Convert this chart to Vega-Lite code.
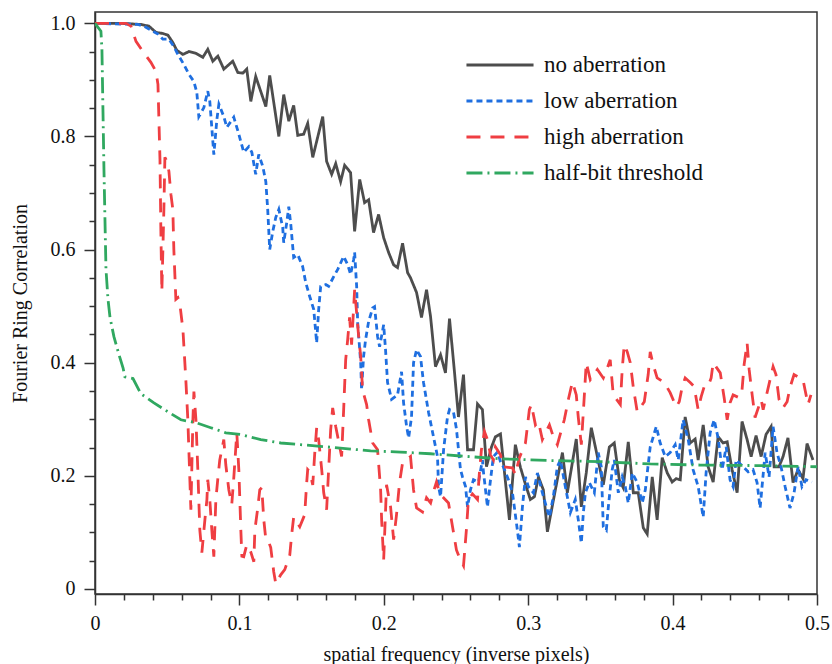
{
 "$schema": "https://vega.github.io/schema/vega-lite/v6.json",
 "width": 722, "height": 582,
 "autosize": {"type": "none"},
 "padding": {"left": 95, "top": 12, "right": 15, "bottom": 70},
 "background": "white",
 "config": {
  "view": {"stroke": "#333", "strokeWidth": 1.5},
  "font": "Liberation Serif, DejaVu Serif, serif",
  "text": {"font": "Liberation Serif, DejaVu Serif, serif"},
  "axis": {"domainColor": "#333", "domainWidth": 1.5, "tickColor": "#333", "tickWidth": 1.5, "labelFont": "Liberation Serif, DejaVu Serif, serif", "labelFontSize": 20, "labelColor": "#111", "titleFont": "Liberation Serif, DejaVu Serif, serif", "titleFontSize": 20, "titleFontWeight": "normal", "titleColor": "#111", "grid": false, "labelOverlap": false, "labelFlush": false},
  "legend": {"labelFont": "Liberation Serif, DejaVu Serif, serif"}
 },
 "data": {"values": [
  {"s":"no aberration","x":0,"y":1.0},{"s":"no aberration","x":0.018,"y":1.0},{"s":"no aberration","x":0.0318,"y":0.998},{"s":"no aberration","x":0.0373,"y":0.995},{"s":"no aberration","x":0.0422,"y":0.984},{"s":"no aberration","x":0.047,"y":0.982},{"s":"no aberration","x":0.0505,"y":0.979},{"s":"no aberration","x":0.0539,"y":0.966},{"s":"no aberration","x":0.0567,"y":0.952},{"s":"no aberration","x":0.0609,"y":0.945},{"s":"no aberration","x":0.065,"y":0.95},{"s":"no aberration","x":0.0699,"y":0.947},{"s":"no aberration","x":0.0747,"y":0.94},{"s":"no aberration","x":0.0781,"y":0.954},{"s":"no aberration","x":0.0816,"y":0.933},{"s":"no aberration","x":0.0851,"y":0.942},{"s":"no aberration","x":0.0892,"y":0.919},{"s":"no aberration","x":0.0954,"y":0.933},{"s":"no aberration","x":0.0989,"y":0.913},{"s":"no aberration","x":0.1024,"y":0.912},{"s":"no aberration","x":0.1051,"y":0.919},{"s":"no aberration","x":0.1079,"y":0.862},{"s":"no aberration","x":0.1113,"y":0.906},{"s":"no aberration","x":0.1183,"y":0.853},{"s":"no aberration","x":0.121,"y":0.908},{"s":"no aberration","x":0.1273,"y":0.8},{"s":"no aberration","x":0.1307,"y":0.874},{"s":"no aberration","x":0.1342,"y":0.827},{"s":"no aberration","x":0.1376,"y":0.855},{"s":"no aberration","x":0.1404,"y":0.802},{"s":"no aberration","x":0.1445,"y":0.804},{"s":"no aberration","x":0.1473,"y":0.823},{"s":"no aberration","x":0.1508,"y":0.763},{"s":"no aberration","x":0.1577,"y":0.835},{"s":"no aberration","x":0.1604,"y":0.756},{"s":"no aberration","x":0.1639,"y":0.733},{"s":"no aberration","x":0.1667,"y":0.752},{"s":"no aberration","x":0.1701,"y":0.72},{"s":"no aberration","x":0.1729,"y":0.749},{"s":"no aberration","x":0.177,"y":0.736},{"s":"no aberration","x":0.1798,"y":0.632},{"s":"no aberration","x":0.1833,"y":0.724},{"s":"no aberration","x":0.1867,"y":0.683},{"s":"no aberration","x":0.1895,"y":0.688},{"s":"no aberration","x":0.1929,"y":0.63},{"s":"no aberration","x":0.1964,"y":0.662},{"s":"no aberration","x":0.1999,"y":0.621},{"s":"no aberration","x":0.2033,"y":0.595},{"s":"no aberration","x":0.2068,"y":0.573},{"s":"no aberration","x":0.2095,"y":0.568},{"s":"no aberration","x":0.213,"y":0.611},{"s":"no aberration","x":0.2165,"y":0.559},{"s":"no aberration","x":0.2185,"y":0.55},{"s":"no aberration","x":0.2227,"y":0.524},{"s":"no aberration","x":0.2261,"y":0.48},{"s":"no aberration","x":0.2296,"y":0.529},{"s":"no aberration","x":0.2324,"y":0.481},{"s":"no aberration","x":0.2358,"y":0.393},{"s":"no aberration","x":0.2393,"y":0.414},{"s":"no aberration","x":0.2427,"y":0.382},{"s":"no aberration","x":0.2455,"y":0.478},{"s":"no aberration","x":0.249,"y":0.382},{"s":"no aberration","x":0.2517,"y":0.304},{"s":"no aberration","x":0.2552,"y":0.379},{"s":"no aberration","x":0.258,"y":0.246},{"s":"no aberration","x":0.2621,"y":0.246},{"s":"no aberration","x":0.2649,"y":0.327},{"s":"no aberration","x":0.2683,"y":0.317},{"s":"no aberration","x":0.2711,"y":0.216},{"s":"no aberration","x":0.2746,"y":0.251},{"s":"no aberration","x":0.2773,"y":0.269},{"s":"no aberration","x":0.2808,"y":0.274},{"s":"no aberration","x":0.287,"y":0.122},{"s":"no aberration","x":0.2911,"y":0.255},{"s":"no aberration","x":0.2946,"y":0.215},{"s":"no aberration","x":0.2981,"y":0.185},{"s":"no aberration","x":0.3015,"y":0.158},{"s":"no aberration","x":0.3043,"y":0.163},{"s":"no aberration","x":0.3071,"y":0.198},{"s":"no aberration","x":0.3105,"y":0.175},{"s":"no aberration","x":0.3133,"y":0.101},{"s":"no aberration","x":0.3237,"y":0.241},{"s":"no aberration","x":0.3271,"y":0.17},{"s":"no aberration","x":0.3333,"y":0.265},{"s":"no aberration","x":0.3368,"y":0.145},{"s":"no aberration","x":0.3402,"y":0.205},{"s":"no aberration","x":0.3437,"y":0.285},{"s":"no aberration","x":0.3479,"y":0.234},{"s":"no aberration","x":0.352,"y":0.184},{"s":"no aberration","x":0.3562,"y":0.251},{"s":"no aberration","x":0.3596,"y":0.258},{"s":"no aberration","x":0.3631,"y":0.193},{"s":"no aberration","x":0.3658,"y":0.179},{"s":"no aberration","x":0.3693,"y":0.26},{"s":"no aberration","x":0.3728,"y":0.17},{"s":"no aberration","x":0.3762,"y":0.17},{"s":"no aberration","x":0.3797,"y":0.108},{"s":"no aberration","x":0.3824,"y":0.097},{"s":"no aberration","x":0.3859,"y":0.198},{"s":"no aberration","x":0.3893,"y":0.122},{"s":"no aberration","x":0.3928,"y":0.232},{"s":"no aberration","x":0.3963,"y":0.205},{"s":"no aberration","x":0.3997,"y":0.189},{"s":"no aberration","x":0.4025,"y":0.195},{"s":"no aberration","x":0.4053,"y":0.193},{"s":"no aberration","x":0.4087,"y":0.304},{"s":"no aberration","x":0.4122,"y":0.258},{"s":"no aberration","x":0.4156,"y":0.265},{"s":"no aberration","x":0.4177,"y":0.228},{"s":"no aberration","x":0.4212,"y":0.29},{"s":"no aberration","x":0.4246,"y":0.216},{"s":"no aberration","x":0.4281,"y":0.189},{"s":"no aberration","x":0.4315,"y":0.269},{"s":"no aberration","x":0.435,"y":0.258},{"s":"no aberration","x":0.4378,"y":0.26},{"s":"no aberration","x":0.4412,"y":0.211},{"s":"no aberration","x":0.4447,"y":0.17},{"s":"no aberration","x":0.4481,"y":0.296},{"s":"no aberration","x":0.4516,"y":0.264},{"s":"no aberration","x":0.4544,"y":0.234},{"s":"no aberration","x":0.4578,"y":0.271},{"s":"no aberration","x":0.4613,"y":0.234},{"s":"no aberration","x":0.4647,"y":0.273},{"s":"no aberration","x":0.4682,"y":0.287},{"s":"no aberration","x":0.4703,"y":0.216},{"s":"no aberration","x":0.4737,"y":0.216},{"s":"no aberration","x":0.4765,"y":0.234},{"s":"no aberration","x":0.4799,"y":0.267},{"s":"no aberration","x":0.4834,"y":0.188},{"s":"no aberration","x":0.4869,"y":0.211},{"s":"no aberration","x":0.4903,"y":0.195},{"s":"no aberration","x":0.4931,"y":0.257},{"s":"no aberration","x":0.4972,"y":0.228},
  {"s":"low aberration","x":0,"y":1.0},{"s":"low aberration","x":0.0297,"y":0.998},{"s":"low aberration","x":0.0339,"y":0.995},{"s":"low aberration","x":0.0387,"y":0.988},{"s":"low aberration","x":0.0436,"y":0.981},{"s":"low aberration","x":0.047,"y":0.972},{"s":"low aberration","x":0.0512,"y":0.972},{"s":"low aberration","x":0.0546,"y":0.959},{"s":"low aberration","x":0.0574,"y":0.945},{"s":"low aberration","x":0.0616,"y":0.927},{"s":"low aberration","x":0.065,"y":0.91},{"s":"low aberration","x":0.0685,"y":0.897},{"s":"low aberration","x":0.0705,"y":0.878},{"s":"low aberration","x":0.0719,"y":0.835},{"s":"low aberration","x":0.0754,"y":0.851},{"s":"low aberration","x":0.0781,"y":0.88},{"s":"low aberration","x":0.0795,"y":0.862},{"s":"low aberration","x":0.0823,"y":0.768},{"s":"low aberration","x":0.0844,"y":0.83},{"s":"low aberration","x":0.0858,"y":0.857},{"s":"low aberration","x":0.0892,"y":0.835},{"s":"low aberration","x":0.0913,"y":0.816},{"s":"low aberration","x":0.0961,"y":0.834},{"s":"low aberration","x":0.0996,"y":0.804},{"s":"low aberration","x":0.103,"y":0.772},{"s":"low aberration","x":0.1065,"y":0.782},{"s":"low aberration","x":0.1086,"y":0.772},{"s":"low aberration","x":0.1113,"y":0.733},{"s":"low aberration","x":0.1134,"y":0.768},{"s":"low aberration","x":0.1162,"y":0.747},{"s":"low aberration","x":0.1183,"y":0.72},{"s":"low aberration","x":0.1196,"y":0.671},{"s":"low aberration","x":0.121,"y":0.6},{"s":"low aberration","x":0.1231,"y":0.632},{"s":"low aberration","x":0.1252,"y":0.657},{"s":"low aberration","x":0.1273,"y":0.671},{"s":"low aberration","x":0.13,"y":0.639},{"s":"low aberration","x":0.1307,"y":0.612},{"s":"low aberration","x":0.1328,"y":0.648},{"s":"low aberration","x":0.1342,"y":0.676},{"s":"low aberration","x":0.1356,"y":0.644},{"s":"low aberration","x":0.1376,"y":0.586},{"s":"low aberration","x":0.1404,"y":0.591},{"s":"low aberration","x":0.1438,"y":0.57},{"s":"low aberration","x":0.1459,"y":0.542},{"s":"low aberration","x":0.1487,"y":0.517},{"s":"low aberration","x":0.1515,"y":0.494},{"s":"low aberration","x":0.1535,"y":0.435},{"s":"low aberration","x":0.1549,"y":0.494},{"s":"low aberration","x":0.1563,"y":0.535},{"s":"low aberration","x":0.1598,"y":0.538},{"s":"low aberration","x":0.1618,"y":0.535},{"s":"low aberration","x":0.1653,"y":0.552},{"s":"low aberration","x":0.1681,"y":0.565},{"s":"low aberration","x":0.1722,"y":0.588},{"s":"low aberration","x":0.175,"y":0.573},{"s":"low aberration","x":0.177,"y":0.556},{"s":"low aberration","x":0.1791,"y":0.582},{"s":"low aberration","x":0.1798,"y":0.595},{"s":"low aberration","x":0.1812,"y":0.535},{"s":"low aberration","x":0.1819,"y":0.471},{"s":"low aberration","x":0.184,"y":0.4},{"s":"low aberration","x":0.1846,"y":0.352},{"s":"low aberration","x":0.186,"y":0.411},{"s":"low aberration","x":0.1874,"y":0.441},{"s":"low aberration","x":0.1895,"y":0.473},{"s":"low aberration","x":0.1923,"y":0.497},{"s":"low aberration","x":0.1936,"y":0.499},{"s":"low aberration","x":0.1957,"y":0.446},{"s":"low aberration","x":0.1971,"y":0.428},{"s":"low aberration","x":0.1999,"y":0.467},{"s":"low aberration","x":0.2012,"y":0.423},{"s":"low aberration","x":0.2026,"y":0.365},{"s":"low aberration","x":0.2054,"y":0.335},{"s":"low aberration","x":0.2095,"y":0.343},{"s":"low aberration","x":0.2123,"y":0.384},{"s":"low aberration","x":0.2137,"y":0.329},{"s":"low aberration","x":0.2158,"y":0.287},{"s":"low aberration","x":0.2172,"y":0.267},{"s":"low aberration","x":0.2192,"y":0.304},{"s":"low aberration","x":0.2206,"y":0.4},{"s":"low aberration","x":0.2227,"y":0.423},{"s":"low aberration","x":0.2254,"y":0.411},{"s":"low aberration","x":0.2275,"y":0.365},{"s":"low aberration","x":0.231,"y":0.312},{"s":"low aberration","x":0.2344,"y":0.269},{"s":"low aberration","x":0.2372,"y":0.234},{"s":"low aberration","x":0.2379,"y":0.181},{"s":"low aberration","x":0.2393,"y":0.163},{"s":"low aberration","x":0.2414,"y":0.246},{"s":"low aberration","x":0.2441,"y":0.304},{"s":"low aberration","x":0.2455,"y":0.317},{"s":"low aberration","x":0.2483,"y":0.312},{"s":"low aberration","x":0.2503,"y":0.283},{"s":"low aberration","x":0.2531,"y":0.211},{"s":"low aberration","x":0.2545,"y":0.198},{"s":"low aberration","x":0.2566,"y":0.181},{"s":"low aberration","x":0.258,"y":0.145},{"s":"low aberration","x":0.26,"y":0.175},{"s":"low aberration","x":0.2621,"y":0.193},{"s":"low aberration","x":0.2656,"y":0.189},{"s":"low aberration","x":0.2683,"y":0.228},{"s":"low aberration","x":0.269,"y":0.207},{"s":"low aberration","x":0.2718,"y":0.145},{"s":"low aberration","x":0.2739,"y":0.193},{"s":"low aberration","x":0.2759,"y":0.234},{"s":"low aberration","x":0.2787,"y":0.242},{"s":"low aberration","x":0.2808,"y":0.225},{"s":"low aberration","x":0.2828,"y":0.216},{"s":"low aberration","x":0.2863,"y":0.193},{"s":"low aberration","x":0.2891,"y":0.17},{"s":"low aberration","x":0.2925,"y":0.104},{"s":"low aberration","x":0.2939,"y":0.074},{"s":"low aberration","x":0.296,"y":0.145},{"s":"low aberration","x":0.2981,"y":0.198},{"s":"low aberration","x":0.3001,"y":0.181},{"s":"low aberration","x":0.3036,"y":0.17},{"s":"low aberration","x":0.3064,"y":0.205},{"s":"low aberration","x":0.3098,"y":0.17},{"s":"low aberration","x":0.3126,"y":0.145},{"s":"low aberration","x":0.3147,"y":0.127},{"s":"low aberration","x":0.3174,"y":0.163},{"s":"low aberration","x":0.3202,"y":0.216},{"s":"low aberration","x":0.3223,"y":0.228},{"s":"low aberration","x":0.3257,"y":0.181},{"s":"low aberration","x":0.3292,"y":0.135},{"s":"low aberration","x":0.3326,"y":0.158},{"s":"low aberration","x":0.3347,"y":0.122},{"s":"low aberration","x":0.3368,"y":0.081},{"s":"low aberration","x":0.3382,"y":0.135},{"s":"low aberration","x":0.3396,"y":0.17},{"s":"low aberration","x":0.3423,"y":0.188},{"s":"low aberration","x":0.3458,"y":0.17},{"s":"low aberration","x":0.3485,"y":0.241},{"s":"low aberration","x":0.3506,"y":0.216},{"s":"low aberration","x":0.352,"y":0.11},{"s":"low aberration","x":0.3541,"y":0.104},{"s":"low aberration","x":0.3555,"y":0.145},{"s":"low aberration","x":0.3582,"y":0.211},{"s":"low aberration","x":0.3596,"y":0.228},{"s":"low aberration","x":0.3624,"y":0.17},{"s":"low aberration","x":0.3651,"y":0.198},{"s":"low aberration","x":0.3672,"y":0.181},{"s":"low aberration","x":0.3693,"y":0.152},{"s":"low aberration","x":0.3721,"y":0.205},{"s":"low aberration","x":0.3755,"y":0.188},{"s":"low aberration","x":0.379,"y":0.152},{"s":"low aberration","x":0.3811,"y":0.175},{"s":"low aberration","x":0.3845,"y":0.251},{"s":"low aberration","x":0.3887,"y":0.287},{"s":"low aberration","x":0.3914,"y":0.258},{"s":"low aberration","x":0.3949,"y":0.234},{"s":"low aberration","x":0.3983,"y":0.241},{"s":"low aberration","x":0.4018,"y":0.255},{"s":"low aberration","x":0.4039,"y":0.228},{"s":"low aberration","x":0.4073,"y":0.299},{"s":"low aberration","x":0.4108,"y":0.264},{"s":"low aberration","x":0.4142,"y":0.211},{"s":"low aberration","x":0.4177,"y":0.181},{"s":"low aberration","x":0.4212,"y":0.127},{"s":"low aberration","x":0.4232,"y":0.205},{"s":"low aberration","x":0.426,"y":0.276},{"s":"low aberration","x":0.4288,"y":0.299},{"s":"low aberration","x":0.4315,"y":0.267},{"s":"low aberration","x":0.4343,"y":0.211},{"s":"low aberration","x":0.4371,"y":0.251},{"s":"low aberration","x":0.4398,"y":0.193},{"s":"low aberration","x":0.4419,"y":0.181},{"s":"low aberration","x":0.444,"y":0.228},{"s":"low aberration","x":0.4488,"y":0.216},{"s":"low aberration","x":0.4523,"y":0.207},{"s":"low aberration","x":0.4557,"y":0.211},{"s":"low aberration","x":0.4585,"y":0.188},{"s":"low aberration","x":0.4606,"y":0.143},{"s":"low aberration","x":0.4641,"y":0.241},{"s":"low aberration","x":0.4668,"y":0.198},{"s":"low aberration","x":0.4696,"y":0.287},{"s":"low aberration","x":0.4723,"y":0.241},{"s":"low aberration","x":0.4751,"y":0.216},{"s":"low aberration","x":0.4779,"y":0.181},{"s":"low aberration","x":0.4813,"y":0.143},{"s":"low aberration","x":0.4841,"y":0.17},{"s":"low aberration","x":0.4869,"y":0.216},{"s":"low aberration","x":0.4896,"y":0.181},{"s":"low aberration","x":0.4924,"y":0.193},{"s":"low aberration","x":0.4965,"y":0.189},
  {"s":"high aberration","x":0,"y":1.0},{"s":"high aberration","x":0.0214,"y":1.0},{"s":"high aberration","x":0.0249,"y":0.995},{"s":"high aberration","x":0.0284,"y":0.968},{"s":"high aberration","x":0.0332,"y":0.95},{"s":"high aberration","x":0.0387,"y":0.931},{"s":"high aberration","x":0.0422,"y":0.915},{"s":"high aberration","x":0.0436,"y":0.892},{"s":"high aberration","x":0.045,"y":0.759},{"s":"high aberration","x":0.0456,"y":0.635},{"s":"high aberration","x":0.0463,"y":0.526},{"s":"high aberration","x":0.0477,"y":0.671},{"s":"high aberration","x":0.0484,"y":0.763},{"s":"high aberration","x":0.0498,"y":0.756},{"s":"high aberration","x":0.0512,"y":0.738},{"s":"high aberration","x":0.0526,"y":0.697},{"s":"high aberration","x":0.0539,"y":0.671},{"s":"high aberration","x":0.0546,"y":0.6},{"s":"high aberration","x":0.056,"y":0.512},{"s":"high aberration","x":0.0574,"y":0.515},{"s":"high aberration","x":0.0588,"y":0.503},{"s":"high aberration","x":0.0609,"y":0.458},{"s":"high aberration","x":0.0629,"y":0.37},{"s":"high aberration","x":0.0643,"y":0.299},{"s":"high aberration","x":0.0657,"y":0.193},{"s":"high aberration","x":0.0664,"y":0.14},{"s":"high aberration","x":0.0678,"y":0.299},{"s":"high aberration","x":0.0685,"y":0.349},{"s":"high aberration","x":0.0699,"y":0.299},{"s":"high aberration","x":0.0712,"y":0.211},{"s":"high aberration","x":0.0726,"y":0.104},{"s":"high aberration","x":0.074,"y":0.064},{"s":"high aberration","x":0.0761,"y":0.122},{"s":"high aberration","x":0.0775,"y":0.158},{"s":"high aberration","x":0.0781,"y":0.193},{"s":"high aberration","x":0.0795,"y":0.158},{"s":"high aberration","x":0.0809,"y":0.104},{"s":"high aberration","x":0.0823,"y":0.057},{"s":"high aberration","x":0.0837,"y":0.158},{"s":"high aberration","x":0.0851,"y":0.196},{"s":"high aberration","x":0.0864,"y":0.228},{"s":"high aberration","x":0.0892,"y":0.264},{"s":"high aberration","x":0.0906,"y":0.219},{"s":"high aberration","x":0.0927,"y":0.175},{"s":"high aberration","x":0.0947,"y":0.149},{"s":"high aberration","x":0.0961,"y":0.196},{"s":"high aberration","x":0.0982,"y":0.276},{"s":"high aberration","x":0.0996,"y":0.211},{"s":"high aberration","x":0.1003,"y":0.158},{"s":"high aberration","x":0.101,"y":0.104},{"s":"high aberration","x":0.1017,"y":0.058},{"s":"high aberration","x":0.103,"y":0.057},{"s":"high aberration","x":0.1051,"y":0.078},{"s":"high aberration","x":0.1079,"y":0.065},{"s":"high aberration","x":0.11,"y":0.048},{"s":"high aberration","x":0.1107,"y":0.104},{"s":"high aberration","x":0.1127,"y":0.143},{"s":"high aberration","x":0.1141,"y":0.175},{"s":"high aberration","x":0.1155,"y":0.179},{"s":"high aberration","x":0.1169,"y":0.122},{"s":"high aberration","x":0.1183,"y":0.087},{"s":"high aberration","x":0.1203,"y":0.083},{"s":"high aberration","x":0.1217,"y":0.073},{"s":"high aberration","x":0.1238,"y":0.03},{"s":"high aberration","x":0.1252,"y":0.009},{"s":"high aberration","x":0.1286,"y":0.025},{"s":"high aberration","x":0.1314,"y":0.034},{"s":"high aberration","x":0.1349,"y":0.06},{"s":"high aberration","x":0.1362,"y":0.096},{"s":"high aberration","x":0.1376,"y":0.127},{"s":"high aberration","x":0.1418,"y":0.11},{"s":"high aberration","x":0.1452,"y":0.131},{"s":"high aberration","x":0.1466,"y":0.188},{"s":"high aberration","x":0.1473,"y":0.211},{"s":"high aberration","x":0.1487,"y":0.207},{"s":"high aberration","x":0.1508,"y":0.184},{"s":"high aberration","x":0.1521,"y":0.237},{"s":"high aberration","x":0.1535,"y":0.285},{"s":"high aberration","x":0.1549,"y":0.264},{"s":"high aberration","x":0.157,"y":0.211},{"s":"high aberration","x":0.1584,"y":0.17},{"s":"high aberration","x":0.1604,"y":0.14},{"s":"high aberration","x":0.1618,"y":0.211},{"s":"high aberration","x":0.1632,"y":0.281},{"s":"high aberration","x":0.1646,"y":0.32},{"s":"high aberration","x":0.1667,"y":0.287},{"s":"high aberration","x":0.1708,"y":0.234},{"s":"high aberration","x":0.1722,"y":0.317},{"s":"high aberration","x":0.1736,"y":0.405},{"s":"high aberration","x":0.175,"y":0.441},{"s":"high aberration","x":0.1763,"y":0.48},{"s":"high aberration","x":0.1777,"y":0.432},{"s":"high aberration","x":0.1798,"y":0.529},{"s":"high aberration","x":0.1826,"y":0.446},{"s":"high aberration","x":0.184,"y":0.411},{"s":"high aberration","x":0.1853,"y":0.352},{"s":"high aberration","x":0.1881,"y":0.326},{"s":"high aberration","x":0.1895,"y":0.299},{"s":"high aberration","x":0.1923,"y":0.258},{"s":"high aberration","x":0.1957,"y":0.246},{"s":"high aberration","x":0.1978,"y":0.175},{"s":"high aberration","x":0.1985,"y":0.122},{"s":"high aberration","x":0.1999,"y":0.051},{"s":"high aberration","x":0.2019,"y":0.184},{"s":"high aberration","x":0.2047,"y":0.145},{"s":"high aberration","x":0.2068,"y":0.087},{"s":"high aberration","x":0.2088,"y":0.131},{"s":"high aberration","x":0.2109,"y":0.188},{"s":"high aberration","x":0.213,"y":0.223},{"s":"high aberration","x":0.2185,"y":0.234},{"s":"high aberration","x":0.2206,"y":0.175},{"s":"high aberration","x":0.2227,"y":0.143},{"s":"high aberration","x":0.2268,"y":0.136},{"s":"high aberration","x":0.2296,"y":0.161},{"s":"high aberration","x":0.2324,"y":0.152},{"s":"high aberration","x":0.2344,"y":0.172},{"s":"high aberration","x":0.2365,"y":0.189},{"s":"high aberration","x":0.2386,"y":0.17},{"s":"high aberration","x":0.2407,"y":0.163},{"s":"high aberration","x":0.2448,"y":0.152},{"s":"high aberration","x":0.2476,"y":0.11},{"s":"high aberration","x":0.2503,"y":0.069},{"s":"high aberration","x":0.2524,"y":0.055},{"s":"high aberration","x":0.2552,"y":0.041},{"s":"high aberration","x":0.2573,"y":0.108},{"s":"high aberration","x":0.2586,"y":0.158},{"s":"high aberration","x":0.2614,"y":0.168},{"s":"high aberration","x":0.2649,"y":0.158},{"s":"high aberration","x":0.2662,"y":0.205},{"s":"high aberration","x":0.2676,"y":0.246},{"s":"high aberration","x":0.2697,"y":0.278},{"s":"high aberration","x":0.2718,"y":0.264},{"s":"high aberration","x":0.2739,"y":0.237},{"s":"high aberration","x":0.2759,"y":0.228},{"s":"high aberration","x":0.2773,"y":0.251},{"s":"high aberration","x":0.2808,"y":0.237},{"s":"high aberration","x":0.2828,"y":0.216},{"s":"high aberration","x":0.2891,"y":0.214},{"s":"high aberration","x":0.2911,"y":0.202},{"s":"high aberration","x":0.2939,"y":0.232},{"s":"high aberration","x":0.2981,"y":0.258},{"s":"high aberration","x":0.3008,"y":0.317},{"s":"high aberration","x":0.3022,"y":0.326},{"s":"high aberration","x":0.305,"y":0.29},{"s":"high aberration","x":0.3071,"y":0.296},{"s":"high aberration","x":0.3098,"y":0.264},{"s":"high aberration","x":0.3147,"y":0.29},{"s":"high aberration","x":0.3174,"y":0.269},{"s":"high aberration","x":0.3202,"y":0.255},{"s":"high aberration","x":0.325,"y":0.299},{"s":"high aberration","x":0.3278,"y":0.335},{"s":"high aberration","x":0.3306,"y":0.366},{"s":"high aberration","x":0.3333,"y":0.343},{"s":"high aberration","x":0.3347,"y":0.303},{"s":"high aberration","x":0.3368,"y":0.255},{"s":"high aberration","x":0.3389,"y":0.343},{"s":"high aberration","x":0.3402,"y":0.4},{"s":"high aberration","x":0.343,"y":0.37},{"s":"high aberration","x":0.3479,"y":0.388},{"s":"high aberration","x":0.352,"y":0.373},{"s":"high aberration","x":0.3548,"y":0.391},{"s":"high aberration","x":0.3568,"y":0.405},{"s":"high aberration","x":0.3589,"y":0.343},{"s":"high aberration","x":0.3638,"y":0.326},{"s":"high aberration","x":0.3651,"y":0.388},{"s":"high aberration","x":0.3665,"y":0.432},{"s":"high aberration","x":0.3686,"y":0.419},{"s":"high aberration","x":0.3707,"y":0.4},{"s":"high aberration","x":0.3728,"y":0.356},{"s":"high aberration","x":0.3755,"y":0.313},{"s":"high aberration","x":0.3804,"y":0.331},{"s":"high aberration","x":0.3831,"y":0.379},{"s":"high aberration","x":0.3845,"y":0.419},{"s":"high aberration","x":0.3866,"y":0.396},{"s":"high aberration","x":0.3893,"y":0.373},{"s":"high aberration","x":0.3942,"y":0.365},{"s":"high aberration","x":0.3983,"y":0.347},{"s":"high aberration","x":0.4025,"y":0.322},{"s":"high aberration","x":0.4046,"y":0.331},{"s":"high aberration","x":0.4067,"y":0.358},{"s":"high aberration","x":0.4087,"y":0.373},{"s":"high aberration","x":0.4122,"y":0.365},{"s":"high aberration","x":0.4149,"y":0.358},{"s":"high aberration","x":0.4177,"y":0.317},{"s":"high aberration","x":0.4198,"y":0.34},{"s":"high aberration","x":0.4219,"y":0.358},{"s":"high aberration","x":0.4246,"y":0.358},{"s":"high aberration","x":0.4267,"y":0.373},{"s":"high aberration","x":0.4281,"y":0.4},{"s":"high aberration","x":0.433,"y":0.382},{"s":"high aberration","x":0.4357,"y":0.338},{"s":"high aberration","x":0.4378,"y":0.299},{"s":"high aberration","x":0.4398,"y":0.329},{"s":"high aberration","x":0.4419,"y":0.343},{"s":"high aberration","x":0.4461,"y":0.338},{"s":"high aberration","x":0.4481,"y":0.352},{"s":"high aberration","x":0.4495,"y":0.396},{"s":"high aberration","x":0.4516,"y":0.435},{"s":"high aberration","x":0.453,"y":0.388},{"s":"high aberration","x":0.4551,"y":0.343},{"s":"high aberration","x":0.4571,"y":0.303},{"s":"high aberration","x":0.4613,"y":0.335},{"s":"high aberration","x":0.4627,"y":0.317},{"s":"high aberration","x":0.4675,"y":0.37},{"s":"high aberration","x":0.4696,"y":0.393},{"s":"high aberration","x":0.4716,"y":0.379},{"s":"high aberration","x":0.4737,"y":0.335},{"s":"high aberration","x":0.4765,"y":0.32},{"s":"high aberration","x":0.4793,"y":0.331},{"s":"high aberration","x":0.4813,"y":0.356},{"s":"high aberration","x":0.4841,"y":0.379},{"s":"high aberration","x":0.4903,"y":0.37},{"s":"high aberration","x":0.4917,"y":0.352},{"s":"high aberration","x":0.4938,"y":0.326},{"s":"high aberration","x":0.4958,"y":0.343},
  {"s":"half-bit threshold","x":0,"y":1.0},{"s":"half-bit threshold","x":0.0041,"y":0.986},{"s":"half-bit threshold","x":0.0048,"y":0.954},{"s":"half-bit threshold","x":0.0055,"y":0.848},{"s":"half-bit threshold","x":0.0062,"y":0.742},{"s":"half-bit threshold","x":0.0069,"y":0.653},{"s":"half-bit threshold","x":0.0076,"y":0.565},{"s":"half-bit threshold","x":0.009,"y":0.512},{"s":"half-bit threshold","x":0.0104,"y":0.48},{"s":"half-bit threshold","x":0.0131,"y":0.446},{"s":"half-bit threshold","x":0.0166,"y":0.414},{"s":"half-bit threshold","x":0.0194,"y":0.391},{"s":"half-bit threshold","x":0.0207,"y":0.375},{"s":"half-bit threshold","x":0.0263,"y":0.372},{"s":"half-bit threshold","x":0.0318,"y":0.345},{"s":"half-bit threshold","x":0.0408,"y":0.329},{"s":"half-bit threshold","x":0.0512,"y":0.312},{"s":"half-bit threshold","x":0.0595,"y":0.299},{"s":"half-bit threshold","x":0.0698,"y":0.294},{"s":"half-bit threshold","x":0.0802,"y":0.285},{"s":"half-bit threshold","x":0.0906,"y":0.276},{"s":"half-bit threshold","x":0.101,"y":0.273},{"s":"half-bit threshold","x":0.1148,"y":0.264},{"s":"half-bit threshold","x":0.1286,"y":0.258},{"s":"half-bit threshold","x":0.1425,"y":0.255},{"s":"half-bit threshold","x":0.1653,"y":0.25},{"s":"half-bit threshold","x":0.1909,"y":0.244},{"s":"half-bit threshold","x":0.2116,"y":0.242},{"s":"half-bit threshold","x":0.2324,"y":0.239},{"s":"half-bit threshold","x":0.2531,"y":0.235},{"s":"half-bit threshold","x":0.2808,"y":0.23},{"s":"half-bit threshold","x":0.3154,"y":0.227},{"s":"half-bit threshold","x":0.3499,"y":0.225},{"s":"half-bit threshold","x":0.3845,"y":0.221},{"s":"half-bit threshold","x":0.4191,"y":0.219},{"s":"half-bit threshold","x":0.4606,"y":0.218},{"s":"half-bit threshold","x":0.5,"y":0.216}
 ]},
 "mark": {"type": "line", "strokeWidth": 2.8, "clip": true},
 "encoding": {
  "x": {"field": "x", "type": "quantitative", "scale": {"domain": [0, 0.5], "nice": false, "zero": false},
   "axis": {"values": [0,0.02,0.04,0.06,0.08,0.1,0.12,0.14,0.16,0.18,0.2,0.22,0.24,0.26,0.28,0.3,0.32,0.34,0.36,0.38,0.4,0.42,0.44,0.46,0.48,0.5],
    "labelExpr": "abs(datum.value*10-round(datum.value*10))<0.001 ? (datum.value==0 ? '0' : format(datum.value,'.1f')) : ''",
    "tickSize": {"condition": {"test": "abs(datum.value*10-round(datum.value*10))<0.001", "value": 11}, "value": 6},
    "labelPadding": 8, "title": "spatial frequency (inverse pixels)", "titlePadding": 11}},
  "y": {"field": "y", "type": "quantitative", "scale": {"domain": [-0.009, 1.02], "nice": false, "zero": false},
   "axis": {"values": [0,0.05,0.1,0.15,0.2,0.25,0.3,0.35,0.4,0.45,0.5,0.55,0.6,0.65,0.7,0.75,0.8,0.85,0.9,0.95,1.0],
    "labelExpr": "abs(datum.value*5-round(datum.value*5))<0.001 ? (datum.value==0 ? '0' : format(datum.value,'.1f')) : ''",
    "tickSize": {"condition": {"test": "abs(datum.value*5-round(datum.value*5))<0.001", "value": 11}, "value": 6},
    "labelPadding": 9, "title": "Fourier Ring Correlation", "titlePadding": 20}},
  "color": {"field": "s", "type": "nominal",
   "scale": {"domain": ["no aberration", "low aberration", "high aberration", "half-bit threshold"], "range": ["#4d4d4d", "#1f6fe0", "#ef3e42", "#30a860"]},
   "legend": {"title": null, "orient": "none", "legendX": 392, "legendY": 40, "symbolType": "M-3,0H3", "symbolSize": 500, "symbolStrokeWidth": 2.8, "labelFont": "Liberation Serif, DejaVu Serif, serif", "labelFontSize": 23, "labelColor": "#111", "labelOffset": 31, "rowPadding": 11, "padding": 0}},
  "strokeDash": {"field": "s", "type": "nominal",
   "scale": {"domain": ["no aberration", "low aberration", "high aberration", "half-bit threshold"], "range": [[1, 0], [6, 4], [14, 10], [16, 5, 2, 5]]},
   "legend": {"title": null, "orient": "none", "legendX": 392, "legendY": 40, "symbolType": "M-3,0H3", "symbolSize": 500, "symbolStrokeWidth": 2.8, "labelFont": "Liberation Serif, DejaVu Serif, serif", "labelFontSize": 23, "labelColor": "#111", "labelOffset": 31, "rowPadding": 11, "padding": 0}}
 }
}
